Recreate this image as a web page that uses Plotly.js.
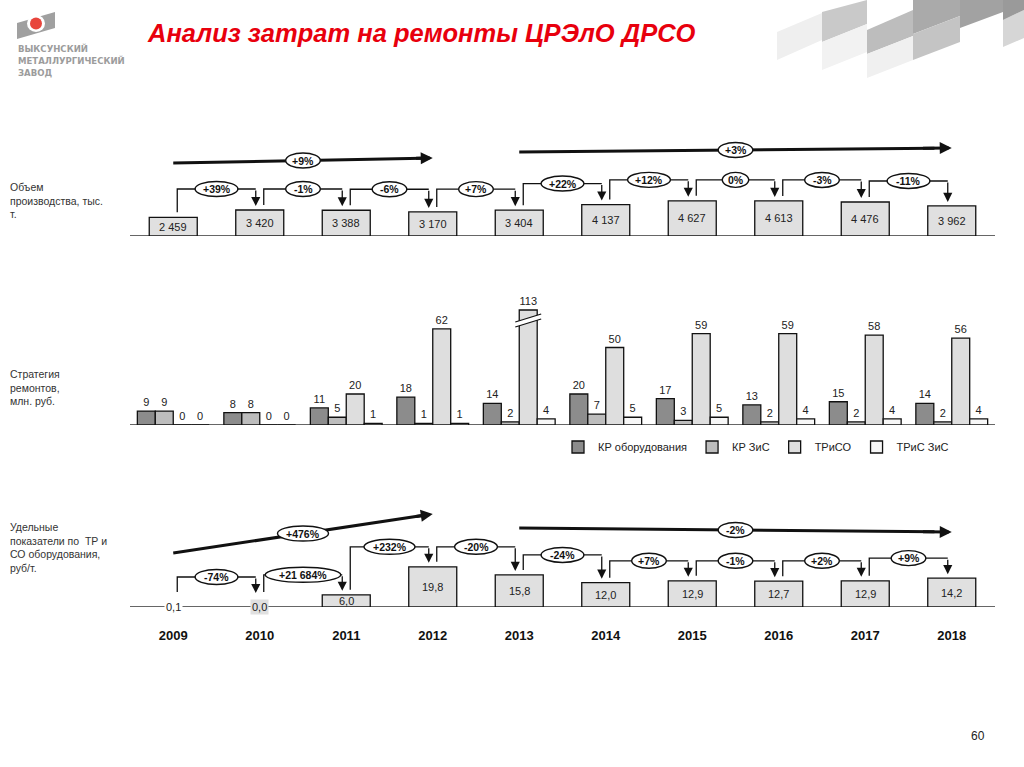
<!DOCTYPE html>
<html><head><meta charset="utf-8">
<script src="https://cdn.plot.ly/plotly-3.0.1.min.js"></script>
<style>html,body{margin:0;padding:0;background:#fff}#chart{width:1024px;height:767px}</style>
</head><body><div id="chart"></div>
<script>
// ---------- DATA ----------
const years = ['2009','2010','2011','2012','2013','2014','2015','2016','2017','2018'];
const volume = [2459,3420,3388,3170,3404,4137,4627,4613,4476,3962];
const volumeChange = ['+39%','-1%','-6%','+7%','+22%','+12%','0%','-3%','-11%'];
const volumeTrend = ['+9%','+3%'];
const seriesNames = ['КР оборудования','КР ЗиС','ТРиСО','ТРиС ЗиС'];
const krEquipment = [9,8,11,18,14,20,17,13,15,14];
const krZis = [9,8,5,1,2,7,3,2,2,2];
const trSo = [0,0,20,62,113,50,59,59,58,56];
const trZis = [0,0,1,1,4,5,5,4,4,4];
const specific = [0.1,0.0,6.0,19.8,15.8,12.0,12.9,12.7,12.9,14.2];
const specificChange = ['-74%','+21 684%','+232%','-20%','-24%','+7%','-1%','+2%','+9%'];
const specificTrend = ['+476%','-2%'];
const trendSpans = [[0,3],[4,9]];

// ---------- GEOMETRY ----------
const W=1024,H=767,L=130,R=29,T=100,B=100;
const PW=W-L-R, PH=H-T-B, xStep=PW/10;
const fx = px => (px-L)/PW;
const fy = py => (H-B-py)/PH;
const idx = years.map((_,i)=>i);
const panels = {
  top:{axis:'y',  base:236, top:133, s:0.0076},
  mid:{axis:'y2', base:425, top:286, s:1.55},
  bot:{axis:'y3', base:607, top:500, s:2.03}
};
const yaxisFor = p => ({visible:false, domain:[fy(p.base), fy(p.top)], range:[0,(p.base-p.top)/p.s], fixedrange:true});

const shapes=[], annotations=[], traces=[];
const FONT='Liberation Sans, Arial, sans-serif';
const INK='#111';

function ellipse(xc, yc, yref, txt){
  const w = 8.2*txt.length+10, h=15;
  shapes.push({type:'circle', xref:'x', yref, xsizemode:'pixel', ysizemode:'pixel', xanchor:xc, yanchor:yc,
    x0:-w/2, x1:w/2, y0:-h/2, y1:h/2, fillcolor:'#fff', line:{color:INK,width:1.4}});
  annotations.push({x:xc, y:yc, xref:'x', yref, text:'<b>'+txt+'</b>', showarrow:false, font:{size:10.5,color:INK,family:FONT}});
}
function connectors(vals, p, changes, minH, lift){
  const h = vals.map(v=>Math.max(v*p.s, minH));
  changes.forEach((txt,i)=>{
    const xs=i+4/xStep, xe=i+1-4/xStep;
    const ys=(h[i]+5)/p.s, yl=(Math.max(h[i],h[i+1])+lift)/p.s, yt=(h[i+1]+4)/p.s;
    shapes.push({type:'path', xref:'x', yref:p.axis, path:`M${xs},${ys} L${xs},${yl} L${xe},${yl}`, line:{color:INK,width:1.3}});
    annotations.push({x:xe, y:yt, ax:xe, ay:yl, xref:'x', yref:p.axis, axref:'x', ayref:p.axis, text:'',
      showarrow:true, arrowhead:2, arrowsize:1.4, arrowwidth:1.3, arrowcolor:INK, standoff:0});
    ellipse((xs+xe)/2, yl, p.axis, txt);
  });
}
function trend(span, h0, h1, p, txt){
  const xa=span[0], xb=span[1], ya=h0/p.s, yb=h1/p.s;
  const k=0.96;
  shapes.push({type:'line', xref:'x', yref:p.axis, x0:xa, y0:ya, x1:xa+(xb-xa)*k, y1:ya+(yb-ya)*k, line:{color:INK,width:3}});
  annotations.push({x:xb, y:yb, ax:xa+(xb-xa)*0.93, ay:ya+(yb-ya)*0.93, xref:'x', yref:p.axis, axref:'x', ayref:p.axis, text:'',
    showarrow:true, arrowhead:2, arrowsize:0.8, arrowwidth:3, arrowcolor:INK, standoff:0});
  ellipse((xa+xb)/2, (ya+yb)/2, p.axis, txt);
}
const fmtThousands = v => String(v).replace(/\B(?=(\d{3})+(?!\d))/g,' ');
const fmtDec = v => v.toFixed(1).replace('.',',');

// ---------- TOP PANEL ----------
traces.push({type:'bar', x:idx, y:volume, width:48/xStep, xaxis:'x', yaxis:'y', showlegend:false, hoverinfo:'skip',
  marker:{color:'#e0e0e0', line:{color:INK,width:1.3}}});
volume.forEach((v,i)=>annotations.push({x:i, y:v/2, xref:'x', yref:'y', text:fmtThousands(v), showarrow:false, font:{size:11,color:'#222',family:FONT}}));
connectors(volume, panels.top, volumeChange, 0, 21);
trend(trendSpans[0], 73, 78, panels.top, volumeTrend[0]);
trend(trendSpans[1], 84, 88, panels.top, volumeTrend[1]);

// ---------- MIDDLE PANEL ----------
const CAP = 115/panels.mid.s;
const midColors=['#8c8c8c','#bdbdbd','#dedede','#f7f7f7'];
[krEquipment,krZis,trSo,trZis].forEach((vals,k)=>{
  traces.push({type:'bar', name:seriesNames[k], x:idx, y:vals.map(v=>Math.min(v,CAP)), xaxis:'x', yaxis:'y2',
    text:vals.map(String), textposition:'outside', constraintext:'none', cliponaxis:false,
    textfont:{size:11,color:'#222',family:FONT}, hoverinfo:'skip',
    marker:{color:midColors[k], line:{color:INK,width:1.3}}});
});
// break marks on capped bar
trSo.forEach((v,i)=>{
  if(v<=CAP) return;
  const xc = i - 2*0.83/4 + 0.83/4*2.5; // third bar centre
  const xl = xc-0.15, xr = xc+0.15, s=panels.mid.s;
  const a=(98)/s, b=(106)/s, c=(103)/s, d=(111)/s;
  shapes.push({type:'path', xref:'x', yref:'y2', path:`M${xl},${a} L${xr},${b} L${xr},${d} L${xl},${c} Z`, fillcolor:'#fff', line:{width:0}});
  shapes.push({type:'line', xref:'x', yref:'y2', x0:xl, y0:a, x1:xr, y1:b, line:{color:INK,width:1.3}});
  shapes.push({type:'line', xref:'x', yref:'y2', x0:xl, y0:c, x1:xr, y1:d, line:{color:INK,width:1.3}});
});

// ---------- BOTTOM PANEL ----------
traces.push({type:'bar', x:idx, y:specific, width:48/xStep, xaxis:'x', yaxis:'y3', showlegend:false, hoverinfo:'skip',
  marker:{color:specific.map(v=>v<1?'rgba(0,0,0,0)':'#e0e0e0'), line:{color:INK,width:specific.map(v=>v<1?0:1.3)}}});
specific.forEach((v,i)=>{
  const small = v<1;
  annotations.push({x:i, y:small?0:v/2, xref:'x', yref:'y3', text:fmtDec(v), showarrow:false,
    bgcolor: small ? (v===0?'#e0e0e0':'#fff') : 'rgba(0,0,0,0)', borderpad:1,
    font:{size:11,color:'#222',family:FONT}});
});
connectors(specific, panels.bot, specificChange, 10, 20);
trend(trendSpans[0], 54, 93, panels.bot, specificTrend[0]);
trend(trendSpans[1], 79, 75, panels.bot, specificTrend[1]);

// ---------- BASELINES ----------
[panels.top, panels.mid, panels.bot].forEach(p=>{
  shapes.push({type:'line', xref:'paper', yref:p.axis, x0:0, x1:1, y0:0, y1:0, line:{color:'#333',width:1.5}, layer:'below'});
});

// ---------- LEFT LABELS ----------
const side = [
  ['Объем<br>производства, тыс.<br>т.', 179],
  ['Стратегия<br>ремонтов,<br>млн. руб.', 366],
  ['Удельные<br>показатели по  ТР и<br>СО оборудования,<br>руб/т.', 519]
];
side.forEach(([t,py])=>annotations.push({xref:'paper', yref:'paper', x:fx(8), y:fy(py), xanchor:'left', yanchor:'top', align:'left',
  text:t, showarrow:false, font:{size:10.5,color:'#333',family:FONT}}));

// ---------- LOGO & DECOR ----------
const P = (px,py)=>`${fx(px)},${fy(py)}`;
const poly = (pts, color, op=1)=>shapes.push({type:'path', xref:'paper', yref:'paper', path:'M'+pts.map(p=>P(p[0],p[1])).join(' L')+' Z', fillcolor:color, opacity:op, line:{width:0}});
poly([[17,23],[55,12],[55,28],[17,39]], '#a0a0a0');
shapes.push({type:'circle', xref:'paper', yref:'paper', x0:fx(27), x1:fx(45), y0:fy(15), y1:fy(32), fillcolor:'#fff', line:{width:0}});
shapes.push({type:'circle', xref:'paper', yref:'paper', x0:fx(30), x1:fx(42), y0:fy(17.5), y1:fy(29.5), fillcolor:'#e8453c', line:{width:0}});
['ВЫКСУНСКИЙ','МЕТАЛЛУРГИЧЕСКИЙ','ЗАВОД'].forEach((t,k)=>annotations.push({xref:'paper', yref:'paper', x:fx(16), y:fy(48+12*k),
  xanchor:'left', yanchor:'middle', text:'<b>'+t+'</b>', showarrow:false, font:{size:9.5,color:'#9c9c9c',family:'Liberation Sans Narrow, DejaVu Sans Condensed, sans-serif'}}));
// top-right decorative bands
poly([[777,32],[822,13],[822,40],[777,60]], '#efefef');
poly([[822,12],[867,0],[867,24],[822,42]], '#c9c9c9');
poly([[822,42],[867,24],[867,52],[822,70]], '#f2f2f2');
poly([[867,30],[913,10],[913,36],[867,54]], '#bdbdbd');
poly([[867,54],[913,36],[913,60],[867,78]], '#f0f0f0');
poly([[913,0],[960,0],[960,16],[913,34]], '#aaaaaa');
poly([[913,34],[960,16],[960,42],[913,60]], '#c4c4c4');
poly([[960,0],[1003,0],[1003,12],[960,28]], '#a2a2a2');
poly([[1003,20],[1024,10],[1024,38],[1003,47]], '#d6d6d6');
poly([[1003,0],[1024,0],[1024,10],[1003,20]], '#9a9a9a');

// page number
annotations.push({xref:'paper', yref:'paper', x:fx(987), y:fy(745), text:'60', showarrow:false, font:{size:12,color:'#222',family:FONT}});

const layout = {
  width:W, height:H, margin:{l:L,r:R,t:T,b:B}, paper_bgcolor:'#fff', plot_bgcolor:'rgba(0,0,0,0)',
  title:{text:'<b><i>Анализ затрат на ремонты ЦРЭлО ДРСО</i></b>', x:148/W, xanchor:'left', y:1-33/H, yanchor:'middle',
    xref:'container', yref:'container', font:{size:25.5,color:'#e8000d',family:FONT}},
  barmode:'group', bargap:0.17, bargroupgap:0,
  xaxis:{type:'linear', range:[-0.5,9.5], anchor:'y3', tickvals:idx, ticktext:years, showgrid:false, zeroline:false, showline:false,
    ticks:'', ticklabelstandoff:19, tickfont:{size:13,color:INK,family:FONT,weight:'bold'}, fixedrange:true},
  yaxis:yaxisFor(panels.top), yaxis2:yaxisFor(panels.mid), yaxis3:yaxisFor(panels.bot),
  showlegend:true,
  legend:{orientation:'h', x:fx(558), xanchor:'left', y:fy(447), yanchor:'middle', font:{size:11,color:'#222',family:FONT},
    bgcolor:'rgba(0,0,0,0)', itemwidth:30, traceorder:'normal'},
  shapes, annotations, font:{family:FONT}
};
Plotly.newPlot('chart', traces, layout, {staticPlot:true, displayModeBar:false});
</script></body></html>
